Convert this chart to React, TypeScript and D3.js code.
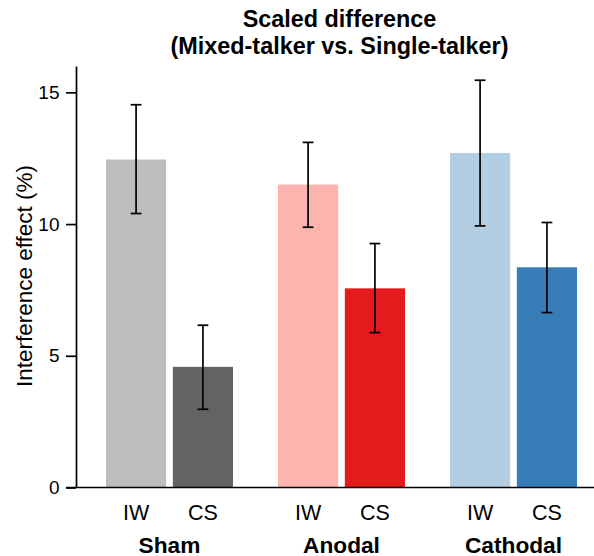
import { useEffect, useRef } from "react";
import * as d3 from "d3";

const groups = ["Sham", "Anodal", "Cathodal"];
const conditions = ["IW", "CS"];
const iwMeans = [12.45, 11.5, 12.7];
const csMeans = [4.58, 7.56, 8.36];
const iwLow = [10.4, 9.88, 9.93];
const iwHigh = [14.53, 13.1, 15.46];
const csLow = [2.97, 5.88, 6.64];
const csHigh = [6.16, 9.26, 10.06];
const yTicks = [0, 5, 10, 15];
const barColors = [
    ["#bdbdbd", "#636363"],
    ["#fbb4ae", "#e41a1c"],
    ["#b3cde3", "#377eb8"],
];

export default function App() {
    const svgRef = useRef<SVGSVGElement>(null);

    useEffect(() => {
        const font = "'Liberation Sans', Arial, Helvetica, sans-serif";

        const svg = d3.select(svgRef.current);
        svg.selectAll("*").remove();

        const data = groups.flatMap((g, i) => [
            { group: g, cond: "IW", value: iwMeans[i], lo: iwLow[i], hi: iwHigh[i], color: barColors[i][0] },
            { group: g, cond: "CS", value: csMeans[i], lo: csLow[i], hi: csHigh[i], color: barColors[i][1] },
        ]);

        const x0 = d3.scaleBand().domain(groups).range([83.5, 599.5]);
        const x1 = d3.scaleBand().domain(conditions).range([22.5, 149.5]).paddingInner(0.1);
        const y = d3.scaleLinear().domain([0, 16]).range([487.5, 66]);
        const cx = (d: any) => x0(d.group)! + x1(d.cond)! + x1.bandwidth() / 2;

        // Title
        const title = svg.append("text")
            .attr("text-anchor", "middle")
            .attr("font-family", font)
            .attr("font-weight", "bold")
            .attr("font-size", "23.4px");
        title.append("tspan").attr("x", 339.5).attr("y", 26.5).text("Scaled difference");
        title.append("tspan").attr("x", 339.5).attr("y", 53.5).text("(Mixed-talker vs. Single-talker)");

        // Bars
        svg.selectAll("rect.bar")
            .data(data)
            .enter()
            .append("rect")
            .attr("class", "bar")
            .attr("x", d => x0(d.group)! + x1(d.cond)!)
            .attr("y", d => y(d.value))
            .attr("width", x1.bandwidth())
            .attr("height", d => y(0) - y(d.value))
            .attr("fill", d => d.color);

        // Error bars
        const eb = svg.selectAll("g.err")
            .data(data)
            .enter()
            .append("g")
            .attr("class", "err")
            .attr("stroke", "#000")
            .attr("stroke-width", 1.7);
        eb.append("line")
            .attr("x1", cx).attr("x2", cx)
            .attr("y1", d => y(d.lo)).attr("y2", d => y(d.hi));
        eb.append("line")
            .attr("x1", d => cx(d) - 5.4).attr("x2", d => cx(d) + 5.4)
            .attr("y1", d => y(d.hi)).attr("y2", d => y(d.hi));
        eb.append("line")
            .attr("x1", d => cx(d) - 5.4).attr("x2", d => cx(d) + 5.4)
            .attr("y1", d => y(d.lo)).attr("y2", d => y(d.lo));

        // Y axis
        const yAxis = svg.append("g")
            .attr("transform", "translate(76,0)")
            .call(d3.axisLeft(y).tickValues(yTicks).tickSize(10).tickSizeOuter(0).tickPadding(6.5));
        yAxis.selectAll("path, line").attr("stroke", "#000").attr("stroke-width", 1.7);
        yAxis.selectAll("text")
            .attr("font-family", font)
            .attr("font-size", "19px")
            .attr("fill", "#000");

        // X axis line
        svg.append("line")
            .attr("x1", 66).attr("x2", 594)
            .attr("y1", y(0)).attr("y2", y(0))
            .attr("stroke", "#000")
            .attr("stroke-width", 1.7);

        // Condition labels
        svg.selectAll("text.cond")
            .data(data)
            .enter()
            .append("text")
            .attr("class", "cond")
            .attr("x", cx)
            .attr("y", 520)
            .attr("text-anchor", "middle")
            .attr("font-family", font)
            .attr("font-size", "21.5px")
            .text(d => d.cond);

        // Group labels, centred under each pair of bars
        svg.selectAll("text.group")
            .data(groups)
            .enter()
            .append("text")
            .attr("class", "group")
            .attr("x", d => x0(d)! + (x1.range()[0] + x1.range()[1]) / 2)
            .attr("y", 552.5)
            .attr("text-anchor", "middle")
            .attr("font-family", font)
            .attr("font-weight", "bold")
            .attr("font-size", "22.7px")
            .text(d => d);

        // Y axis title
        svg.append("text")
            .attr("transform", "translate(31.5,276) rotate(-90)")
            .attr("text-anchor", "middle")
            .attr("font-family", font)
            .attr("font-size", "22.5px")
            .text("Interference effect (%)");
    }, []);

    return (
        <svg
            ref={svgRef}
            width={594}
            height={556}
            style={{ position: "absolute", left: 0, top: 0, background: "#fff" }}
        ></svg>
    );
}
